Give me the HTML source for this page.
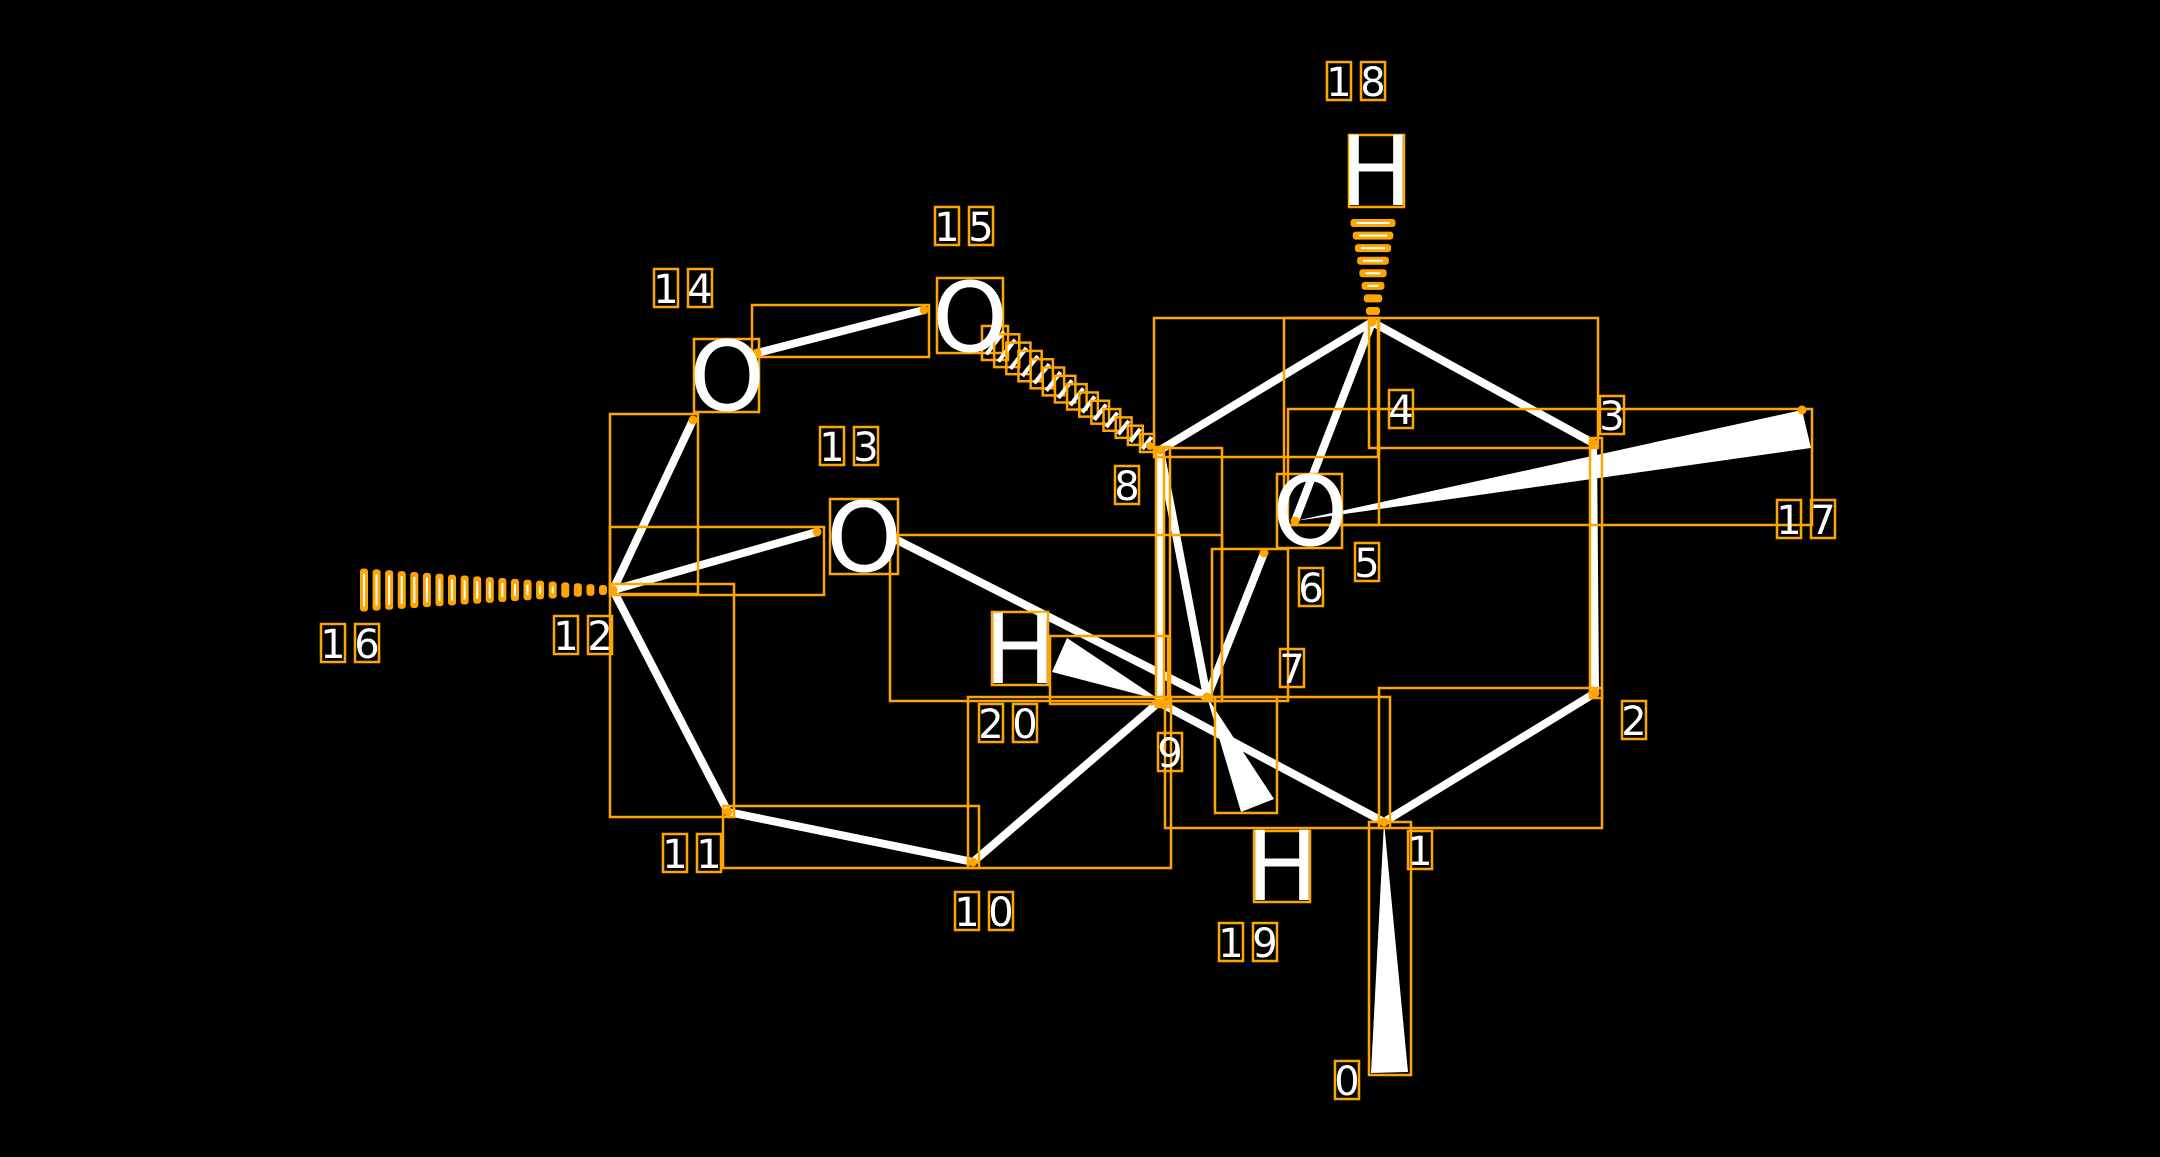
<!DOCTYPE html>
<html><head><meta charset="utf-8"><style>
html,body{margin:0;padding:0;background:#000;}
svg{display:block;}
text{font-family:"DejaVu Sans","Liberation Sans",sans-serif;fill:#fff;}
</style></head><body>
<svg id="s" width="2160" height="1157" viewBox="0 0 2160 1157" xmlns="http://www.w3.org/2000/svg">
<rect width="2160" height="1157" fill="#000"/>
<g id="bonds" stroke="#fff" stroke-width="8" stroke-linecap="butt" fill="none">
<line x1="613" y1="590" x2="693" y2="420"/>
<line x1="757" y1="353" x2="924" y2="310"/>
<line x1="613" y1="590" x2="817" y2="532"/>
<line x1="613" y1="590" x2="728" y2="812"/>
<line x1="728" y1="812" x2="973" y2="862"/>
<line x1="973" y1="862" x2="1158" y2="703"/>
<line x1="893" y1="538" x2="1207" y2="697"/>
<line x1="1160" y1="703" x2="1384" y2="822"/>
<line x1="1384" y1="822" x2="1595" y2="693"/>
<line x1="1595" y1="693" x2="1593" y2="443"/>
<line x1="1593" y1="443" x2="1372" y2="322"/>
<line x1="1372" y1="322" x2="1160" y2="450"/>
<line x1="1160" y1="450" x2="1160" y2="703"/>
<line x1="1160" y1="450" x2="1207" y2="697"/>
<line x1="1207" y1="697" x2="1264" y2="553"/>
<line x1="1372" y1="322" x2="1295" y2="521"/>
</g>
<g fill="#fff">
<polygon points="1384,822 1371,1073 1408,1072"/>
<polygon points="1295,521 1802,410 1811,448"/>
<polygon points="1207,697 1241,812 1274,799"/>
<polygon points="1160,700 1067,638 1052,672"/>
</g>
<g id="boxes" stroke="#FFA500" stroke-width="2.5" fill="none">
<rect x="752" y="305" width="177" height="52"/>
<rect x="694" y="339" width="65" height="73"/>
<rect x="937" y="278" width="66" height="75"/>
<rect x="830" y="499" width="68" height="75"/>
<rect x="1349" y="135" width="55" height="72"/>
<rect x="992" y="612" width="56" height="73"/>
<rect x="1254" y="831" width="56" height="71"/>
<rect x="1277" y="474" width="65" height="74"/>
<rect x="610" y="584" width="124" height="233"/>
<rect x="610" y="414" width="88" height="180"/>
<rect x="610" y="527" width="214" height="68"/>
<rect x="723" y="806" width="256" height="62"/>
<rect x="968" y="697" width="203" height="171"/>
<rect x="890" y="535" width="332" height="166"/>
<rect x="1154" y="318" width="224" height="139"/>
<rect x="1369" y="318" width="229" height="130"/>
<rect x="1590" y="438" width="12" height="260"/>
<rect x="1379" y="688" width="223" height="140"/>
<rect x="1165" y="697" width="225" height="131"/>
<rect x="1288" y="409" width="524" height="116"/>
<rect x="1284" y="318" width="95" height="207"/>
<rect x="1212" y="549" width="76" height="152"/>
<rect x="1215" y="697" width="62" height="116"/>
<rect x="1156" y="447" width="14" height="260"/>
<rect x="1164" y="448" width="58" height="253"/>
<rect x="1050" y="636" width="118" height="68"/>
<rect x="1369" y="822" width="42" height="253"/>
</g>
<g id="hash" fill="#FFA500"></g>
<g font-size="96" text-anchor="middle">
<text x="727" y="410">O</text>
<text x="970" y="351">O</text>
<text x="864" y="571">O</text>
<text x="1310" y="545">O</text>
<text x="1376" y="205">H</text>
<text x="1020" y="683">H</text>
<text x="1282" y="900">H</text>
</g>
<g id="labels" font-size="40" text-anchor="middle"></g>
</svg>
<script>
var NS="http://www.w3.org/2000/svg";
function el(p,t,a){var e=document.createElementNS(NS,t);for(var k in a)e.setAttribute(k,a[k]);p.appendChild(e);return e;}
var H=document.getElementById('hash');
for(var i=0;i<20;i++){var f=i/19;var x=364+f*239;var h=43-f*33;var w=8;
el(H,'rect',{x:x-w/2,y:590-h/2,width:w,height:h,rx:3});
if(h>16)el(H,'rect',{x:x-1,y:590-h/2+5,width:2,height:h-10,fill:'#fff'});}
for(var i=0;i<8;i++){var f=i/7;var y=223+f*88;var w=45-f*31;
el(H,'rect',{x:1373-w/2,y:y-4,width:w,height:8,rx:3});
if(w>20)el(H,'rect',{x:1373-w/2+6,y:y-1,width:w-12,height:2,fill:'#fff'});}
for(var i=0;i<14;i++){var f=i/13;var x=995+f*152;var y=343+f*100;var w=26-f*12,h=34-f*16;
el(H,'rect',{x:x-w/2,y:y-h/2,width:w,height:h,fill:'none',stroke:'#FFA500','stroke-width':2.5});
el(H,'line',{x1:x-w/3,y1:y+h/3,x2:x+w/3,y2:y-h/3,stroke:'#fff','stroke-width':4});}
el(H,'circle',{cx:1150,cy:446,r:4});
[[613,590],[693,420],[757,353],[924,310],[817,532],[893,538],[728,812],[973,862],[1160,703],[1207,697],[1384,822],[1595,693],[1593,443],[1372,322],[1160,450],[1264,553],[1295,521],[1802,410]].forEach(function(p){el(H,'circle',{cx:p[0],cy:p[1],r:4.5});});
var L=document.getElementById('labels');
var labs=[["0",1347,1080],["1",1420,850],["2",1634,720],["3",1612,415],["4",1401,409],["5",1367,562],["6",1311,587],["7",1292,668],["8",1127,485],["9",1170,752],["10",984,911],["11",692,853],["12",583,635],["13",849,446],["14",683,288],["15",964,226],["16",350,643],["17",1806,519],["18",1356,81],["19",1248,942],["20",1008,723]];
labs.forEach(function(l){var s=l[0],n=s.length,dw=24,gap=10,tot=n*dw+(n-1)*gap;
for(var j=0;j<n;j++){var cx=l[1]-tot/2+j*(dw+gap)+dw/2;
el(L,'rect',{x:cx-dw/2,y:l[2]-19,width:dw,height:38,fill:'none',stroke:'#FFA500','stroke-width':2.5});
var t=el(L,'text',{x:cx,y:l[2]+15});t.textContent=s[j];}});
</script>
</body></html>
